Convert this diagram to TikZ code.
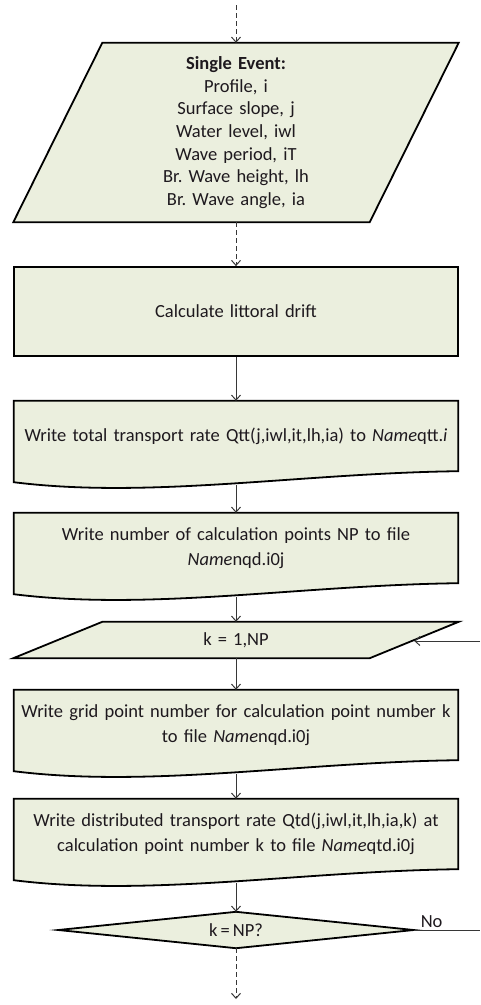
\documentclass[tikz,border=0pt]{standalone}
\usepackage{fontspec}
\setmainfont{Carlito}[WordSpace=0.75]
\frenchspacing
\usepackage{tikz}
\usetikzlibrary{arrows.meta, calc, backgrounds}
\usepackage{xcolor}
\definecolor{FlowFill}{RGB}{235,239,222}
\definecolor{FlowLine}{RGB}{55,55,55}
\definecolor{FlowText}{RGB}{30,25,30}
\tikzset{%
  proc/.style     ={rectangle, draw=black, fill=FlowFill, line width=1.8pt,
                    minimum width=444pt, minimum height=89pt, inner xsep=2pt,
                    text width=440pt, align=center},
  docu/.style     ={rectangle, minimum width=444pt, minimum height=70pt,
                    inner xsep=2pt, text width=440pt, align=center,
                    font=\fontsize{18.5}{25}\selectfont},
  dat/.style      ={rectangle, minimum width=356pt, inner xsep=3pt,
                    text width=350pt, align=center},
  deci/.style     ={rectangle, minimum width=355pt, minimum height=36pt},
  shp/.style      ={draw=black, fill=FlowFill, line width=1.8pt, line join=miter},
  flarr/.style    ={-{Straight Barb[length=5pt, width=9pt]}, line width=1pt, draw=FlowLine},
  dflarr/.style   ={flarr, dash pattern=on 5pt off 3pt}
}
\begin{document}
\begin{tikzpicture}[x=1pt, y=-1pt, every node/.style={font=\fontsize{18.5}{22.7}\selectfont, text=FlowText}]
  \useasboundingbox (0,0) rectangle (480,1005);
  \coordinate (top) at (236,5);
  \node[dat, minimum height=179pt] (ev) at (236,132.5)
    {\textbf{Single Event:}\\Profile, i\\Surface slope, j\\Water level, iwl\\Wave period, iT\\Br. Wave height, lh\\Br. Wave angle, ia};
  \node[proc] (drift) at (236,311.5) {Calculate littoral drift};
  \node[docu] (qtt) at (236,436) {Write total transport rate Qtt(j,iwl,it,lh,ia) to \textit{Name}qtt.\textit{i}};
  \node[docu] (np) at (236,548) {Write number of calculation points NP to file\\\textit{Name}nqd.i0j};
  \node[dat, minimum height=36pt] (kloop) at (236,640) {k = 1,NP};
  \node[docu] (grid) at (236,725) {Write grid point number for calculation point number k\\to file \textit{Name}nqd.i0j};
  \node[docu] (qtd) at (236,834) {Write distributed transport rate Qtd(j,iwl,it,lh,ia,k) at\\calculation point number k to file \textit{Name}qtd.i0j};
  \node[deci] (kend) at (236,930) {k = NP?};
  \coordinate (bot) at (236,999);
  \coordinate (rout) at (480,930);
  \coordinate (rin) at (480,641);
  % shapes behind the texts
  \begin{scope}[on background layer]
    \draw[shp] ($(ev.south west)+(-44.5,0)$) -- ($(ev.north west)+(44.5,0)$)
      -- ($(ev.north east)+(44.5,0)$) -- ($(ev.south east)+(-44.5,0)$) -- cycle;
    \draw[shp] ($(kloop.south west)+(-44.5,0)$) -- ($(kloop.north west)+(44.5,0)$)
      -- ($(kloop.north east)+(44.5,0)$) -- ($(kloop.south east)+(-44.5,0)$) -- cycle;
    \foreach \d in {qtt,np,grid,qtd}{
      \draw[shp] (\d.north west) -- (\d.north east) -- (\d.south east)
        .. controls +(-158,2) and +(136,17) .. ($(\d.south west)+(0,11)$) -- cycle;
    }
    \draw[shp] (kend.west) -- (kend.north) -- (kend.east) -- (kend.south) -- cycle;
  \end{scope}
  % connectors
  \draw[dflarr] (top) -- (ev.north);
  \draw[dflarr] (ev.south) -- (drift.north);
  \draw[flarr] (drift.south) -- (qtt.north);
  \draw[flarr] ($(qtt.south)+(0,14)$) -- (np.north);
  \draw[flarr] ($(np.south)+(0,14)$) -- (kloop.north);
  \draw[flarr] (kloop.south) -- (grid.north);
  \draw[flarr] ($(grid.south)+(0,14)$) -- (qtd.north);
  \draw[flarr] ($(qtd.south)+(0,14)$) -- (kend.north);
  \draw[dflarr] (kend.south) -- (bot);
  \draw[line width=1pt, draw=FlowLine] (kend.east) -- node[pos=0.27, above, inner sep=2pt] {No} (rout);
  \draw[flarr] (rin) -- (rin -| kloop.east);
\end{tikzpicture}
\end{document}
